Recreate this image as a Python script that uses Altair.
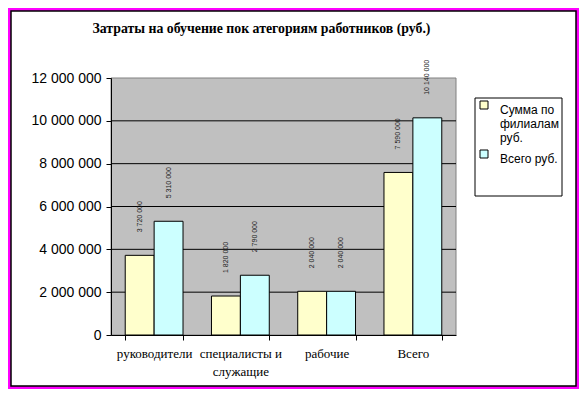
import altair as alt
import pandas as pd

categories = ["руководители", "специалисты и\nслужащие", "рабочие", "Всего"]
series = ["Сумма по\nфилиалам\nруб.", "Всего руб."]
sum_by_branches = [3720000, 1820000, 2040000, 7590000]
total_rub = [5310000, 2790000, 2040000, 10140000]
y_ticks = [0, 2000000, 4000000, 6000000, 8000000, 10000000, 12000000]
grid_values = [2000000, 4000000, 6000000, 8000000, 10000000]
colors = ["#ffffcc", "#ccffff"]

rows = []
for c, a, b in zip(categories, sum_by_branches, total_rub):
    rows.append({"cat": c, "series": series[0], "value": a})
    rows.append({"cat": c, "series": series[1], "value": b})
df = pd.DataFrame(rows)

W, H = 345, 257
yscale = alt.Scale(domain=[0, 12000000], nice=False)
xscale = alt.Scale(paddingInner=0.33, paddingOuter=0.165)
num_expr = "join(split(format(datum.value, ','), ','), ' ')"

y_axis = alt.Axis(
    values=y_ticks, title=None, labelExpr=num_expr,
    labelFont="Liberation Sans", labelFontSize=14, labelColor="black",
    tickColor="black", domainColor="black", tickSize=5, labelPadding=5,
    grid=False, zindex=1,
)

one = pd.DataFrame({"a": [0]})

frame = alt.Chart(one).mark_rect(fill="white", stroke="black", strokeWidth=1.5).encode(
    x=alt.value(-100), x2=alt.value(465), y=alt.value(-67), y2=alt.value(308)
)
plot_bg = alt.Chart(one).mark_rect(fill="#c0c0c0", stroke="#808080", strokeWidth=1).encode(
    x=alt.value(0), x2=alt.value(W), y=alt.value(0), y2=alt.value(H)
)
grid = alt.Chart(pd.DataFrame({"v": grid_values})).mark_rule(color="black", strokeWidth=1).encode(
    y=alt.Y("v:Q", scale=yscale, axis=y_axis),
    x=alt.value(0), x2=alt.value(W),
)

x_enc = alt.X(
    "cat:N", sort=categories, scale=xscale,
    axis=alt.Axis(
        title=None, labelAngle=0, tickBand="extent",
        labelExpr="split(datum.label, '\\n')",
        labelFont="Liberation Serif", labelFontSize=13, labelLineHeight=18,
        labelColor="black", tickColor="black", domainColor="black",
        tickSize=5, labelPadding=7, grid=False, zindex=1,
    ),
)
xo_enc = alt.XOffset("series:N", sort=series, scale=alt.Scale(paddingInner=0, paddingOuter=0))
y_enc = alt.Y("value:Q", scale=yscale, axis=y_axis)

bars = alt.Chart(df).mark_bar(stroke="black", strokeWidth=1, opacity=1).encode(
    x=x_enc, xOffset=xo_enc, y=y_enc,
    fill=alt.Fill(
        "series:N", sort=series,
        scale=alt.Scale(domain=series, range=colors),
        legend=alt.Legend(
            orient="none", legendX=367, legendY=21, title=None,
            labelExpr="split(datum.label, '\\n')",
            symbolType="square", symbolSize=64, symbolStrokeColor="black",
            symbolStrokeWidth=1, labelFont="Liberation Sans", labelFontSize=12,
            labelColor="black", labelOffset=10,
            rowPadding=4, padding=0, labelBaseline="top",
        ),
    ),
)

labels = alt.Chart(df).transform_calculate(
    lbl="join(split(format(datum.value, ','), ','), ' ')"
).mark_text(
    angle=270, align="left", baseline="middle", dx=23, fontSize=7,
    font="Liberation Sans", color="#222222",
).encode(x=x_enc, xOffset=xo_enc, y=y_enc, text="lbl:N")

legend_box = alt.Chart(one).mark_rect(fill="white", stroke="black", strokeWidth=1).encode(
    x=alt.value(364), x2=alt.value(451), y=alt.value(20), y2=alt.value(118)
)

chart = alt.layer(frame, plot_bg, grid, bars, labels, legend_box).properties(
    width=W, height=H,
    autosize=alt.AutoSizeParams(type="none"),
    padding={"left": 103, "top": 70, "right": 123, "bottom": 54},
    background="#ff00ff",
    title=alt.TitleParams(
        "Затраты на обучение пок атегориям работников (руб.)",
        font="Liberation Serif", fontSize=13.8, fontWeight="bold", color="black",
        anchor="middle", frame="group", dx=-22, offset=-26,
    ),
).configure_view(stroke=None)

chart.save("out.html", embed_options={"renderer": "svg", "actions": False})
